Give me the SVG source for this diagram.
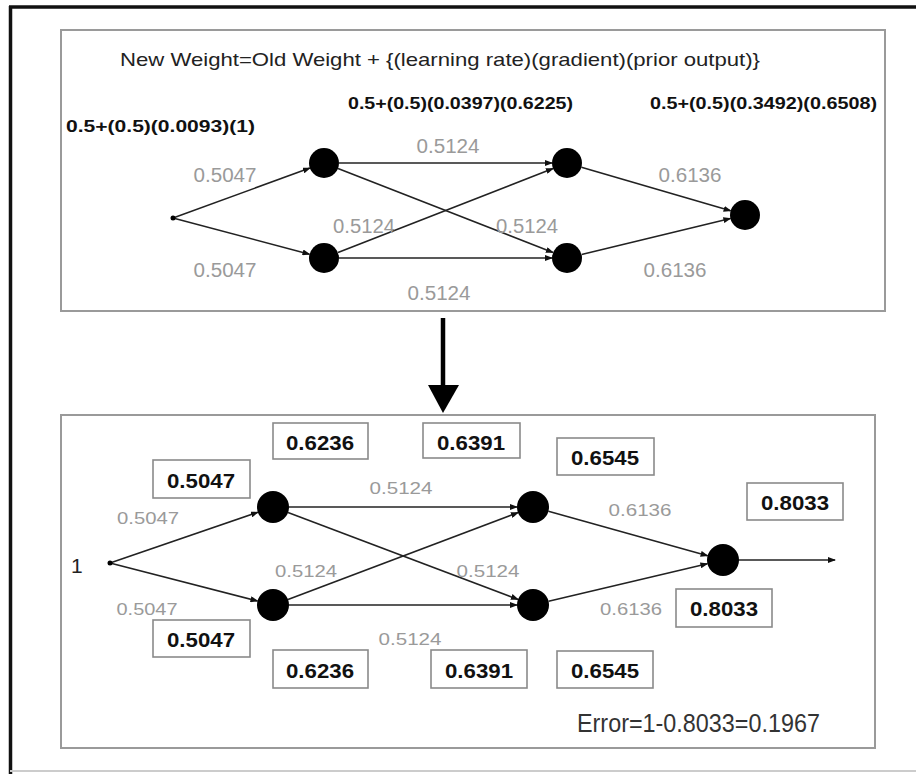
<svg xmlns="http://www.w3.org/2000/svg" width="916" height="774" viewBox="0 0 916 774">
<defs>
<style>
.panel{fill:#fff;stroke:#9a9a9a;stroke-width:2}
.node{fill:#000}
.edge{stroke:#222;stroke-width:1.6;fill:none;marker-end:url(#ah)}
.wl{font-family:"Liberation Sans",Arial,sans-serif;fill:#9a9a9a;font-size:20px;text-anchor:middle}
.wl2{font-family:"Liberation Sans",Arial,sans-serif;fill:#9a9a9a;font-size:17px;text-anchor:middle}
.f{font-family:"Liberation Sans",Arial,sans-serif;fill:#111;font-weight:bold;font-size:17px}
.bx{fill:#fff;stroke:#8a8a8a;stroke-width:1.6}
.bt{font-family:"Liberation Sans",Arial,sans-serif;fill:#111;font-weight:bold;font-size:20px;text-anchor:middle}
.t{font-family:"Liberation Sans",Arial,sans-serif;fill:#222;font-size:19px}
.one{font-family:"Liberation Sans",Arial,sans-serif;fill:#222;font-size:21px}
.err{font-family:"Liberation Sans",Arial,sans-serif;fill:#333;font-size:25px}
</style>
<marker id="ah" markerWidth="8" markerHeight="6" refX="7" refY="3" orient="auto" markerUnits="userSpaceOnUse">
<path d="M0,0 L8,3 L0,6 Z" fill="#111"/>
</marker>
</defs>
<rect width="916" height="774" fill="#fff"/>
<!-- outer frame -->
<line x1="9" y1="7" x2="916" y2="7" stroke="#111" stroke-width="3.5"/>
<line x1="10.5" y1="6" x2="10.5" y2="774" stroke="#111" stroke-width="3.5"/>
<line x1="10" y1="771" x2="916" y2="771" stroke="#ccc" stroke-width="2"/>

<!-- panels -->
<rect class="panel" x="61" y="30" width="824" height="281"/>
<rect class="panel" x="61" y="415" width="814" height="333"/>

<!-- big arrow -->
<g id="transition-arrow">
<line x1="443" y1="318" x2="443" y2="388" stroke="#000" stroke-width="4.5"/>
<polygon points="428,385 459,385 443,413" fill="#000"/>
</g>

<!-- top texts -->
<text class="t" x="120" y="66" textLength="640" lengthAdjust="spacingAndGlyphs">New Weight=Old Weight + {(learning rate)(gradient)(prior output)}</text>
<text class="f" x="348" y="109" textLength="225" lengthAdjust="spacingAndGlyphs">0.5+(0.5)(0.0397)(0.6225)</text>
<text class="f" x="650" y="109" textLength="227" lengthAdjust="spacingAndGlyphs">0.5+(0.5)(0.3492)(0.6508)</text>
<text class="f" x="66" y="132" textLength="189" lengthAdjust="spacingAndGlyphs">0.5+(0.5)(0.0093)(1)</text>

<!-- top connectors -->
<g id="top-connectors">
<line class="edge" x1="173" y1="218" x2="309.9" y2="168.1"/>
<line class="edge" x1="173" y1="218" x2="309.5" y2="254.2"/>
<line class="edge" x1="339" y1="163" x2="552" y2="163"/>
<line class="edge" x1="338" y1="168.5" x2="553" y2="252.5"/>
<line class="edge" x1="338" y1="252.5" x2="553" y2="168.5"/>
<line class="edge" x1="339" y1="258" x2="552" y2="258"/>
<line class="edge" x1="581.4" y1="167.2" x2="730.6" y2="210.8"/>
<line class="edge" x1="581.6" y1="254.5" x2="730.4" y2="218.5"/>
</g>
<g id="top-weights">
<text class="wl" x="225" y="182" textLength="63" lengthAdjust="spacingAndGlyphs">0.5047</text>
<text class="wl" x="225" y="277" textLength="63" lengthAdjust="spacingAndGlyphs">0.5047</text>
<text class="wl" x="448" y="153" textLength="63" lengthAdjust="spacingAndGlyphs">0.5124</text>
<text class="wl" x="364" y="233" textLength="62" lengthAdjust="spacingAndGlyphs">0.5124</text>
<text class="wl" x="527" y="233" textLength="62" lengthAdjust="spacingAndGlyphs">0.5124</text>
<text class="wl" x="439" y="300" textLength="63" lengthAdjust="spacingAndGlyphs">0.5124</text>
<text class="wl" x="690" y="182" textLength="63" lengthAdjust="spacingAndGlyphs">0.6136</text>
<text class="wl" x="675" y="277" textLength="63" lengthAdjust="spacingAndGlyphs">0.6136</text>
</g>
<g id="top-input"><circle class="node" cx="173" cy="218" r="2.5"/></g>
<g id="top-h1"><circle class="node" cx="324" cy="163" r="15"/></g>
<g id="top-h2"><circle class="node" cx="324" cy="258" r="15"/></g>
<g id="top-l1"><circle class="node" cx="567" cy="163" r="15"/></g>
<g id="top-l2"><circle class="node" cx="567" cy="258" r="15"/></g>
<g id="top-out"><circle class="node" cx="745" cy="215" r="15"/></g>

<!-- bottom connectors -->
<g id="bottom-connectors">
<line class="edge" x1="110" y1="563" x2="257.9" y2="512.2"/>
<line class="edge" x1="110" y1="563" x2="257.5" y2="601"/>
<line class="edge" x1="289" y1="507" x2="517" y2="507"/>
<line class="edge" x1="288" y1="512.6" x2="518" y2="599.4"/>
<line class="edge" x1="288" y1="599.4" x2="518" y2="512.6"/>
<line class="edge" x1="289" y1="605" x2="517" y2="605"/>
<line class="edge" x1="548.4" y1="511.3" x2="707.6" y2="555.7"/>
<line class="edge" x1="548.6" y1="601.3" x2="707.4" y2="563.7"/>
<line class="edge" x1="739" y1="560" x2="835" y2="560"/>
</g>
<g id="bottom-weights">
<text class="wl2" x="148" y="524" textLength="62" lengthAdjust="spacingAndGlyphs">0.5047</text>
<text class="wl2" x="147" y="615" textLength="61" lengthAdjust="spacingAndGlyphs">0.5047</text>
<text class="wl2" x="401" y="494" textLength="63" lengthAdjust="spacingAndGlyphs">0.5124</text>
<text class="wl2" x="306" y="577" textLength="62" lengthAdjust="spacingAndGlyphs">0.5124</text>
<text class="wl2" x="488" y="577" textLength="63" lengthAdjust="spacingAndGlyphs">0.5124</text>
<text class="wl2" x="410" y="645" textLength="63" lengthAdjust="spacingAndGlyphs">0.5124</text>
<text class="wl2" x="640" y="516" textLength="63" lengthAdjust="spacingAndGlyphs">0.6136</text>
<text class="wl2" x="631" y="615" textLength="62" lengthAdjust="spacingAndGlyphs">0.6136</text>
</g>
<g id="bottom-input">
<circle class="node" cx="110" cy="563" r="2.5"/>
<text class="one" x="71" y="573">1</text>
</g>
<g id="bottom-h1"><circle class="node" cx="273" cy="507" r="16"/></g>
<g id="bottom-h2"><circle class="node" cx="273" cy="605" r="16"/></g>
<g id="bottom-l1"><circle class="node" cx="533" cy="507" r="16"/></g>
<g id="bottom-l2"><circle class="node" cx="533" cy="605" r="16"/></g>
<g id="bottom-out"><circle class="node" cx="723" cy="560" r="16"/></g>

<!-- output boxes -->
<g id="box-h1-top"><rect class="bx" x="153" y="460" width="97" height="38"/><text class="bt" x="201" y="488" textLength="68" lengthAdjust="spacingAndGlyphs">0.5047</text></g>
<g id="box-h1-w"><rect class="bx" x="273" y="423" width="95" height="36"/><text class="bt" x="320" y="450" textLength="68" lengthAdjust="spacingAndGlyphs">0.6236</text></g>
<g id="box-l1-w"><rect class="bx" x="423" y="423" width="97" height="35"/><text class="bt" x="471" y="450" textLength="68" lengthAdjust="spacingAndGlyphs">0.6391</text></g>
<g id="box-o-w1"><rect class="bx" x="557" y="438" width="97" height="37"/><text class="bt" x="605" y="465" textLength="68" lengthAdjust="spacingAndGlyphs">0.6545</text></g>
<g id="box-out-top"><rect class="bx" x="747" y="483" width="96" height="37"/><text class="bt" x="795" y="510" textLength="68" lengthAdjust="spacingAndGlyphs">0.8033</text></g>
<g id="box-h2-bottom"><rect class="bx" x="153" y="620" width="97" height="37"/><text class="bt" x="201" y="647" textLength="68" lengthAdjust="spacingAndGlyphs">0.5047</text></g>
<g id="box-h2-w"><rect class="bx" x="273" y="650" width="95" height="38"/><text class="bt" x="320" y="678" textLength="68" lengthAdjust="spacingAndGlyphs">0.6236</text></g>
<g id="box-l2-w"><rect class="bx" x="431" y="650" width="96" height="38"/><text class="bt" x="479" y="678" textLength="68" lengthAdjust="spacingAndGlyphs">0.6391</text></g>
<g id="box-o-w2"><rect class="bx" x="557" y="651" width="96" height="37"/><text class="bt" x="605" y="678" textLength="68" lengthAdjust="spacingAndGlyphs">0.6545</text></g>
<g id="box-out-bottom"><rect class="bx" x="676" y="589" width="96" height="38"/><text class="bt" x="724" y="616" textLength="68" lengthAdjust="spacingAndGlyphs">0.8033</text></g>

<text class="err" x="577" y="732" textLength="243" lengthAdjust="spacingAndGlyphs">Error=1-0.8033=0.1967</text>
</svg>
